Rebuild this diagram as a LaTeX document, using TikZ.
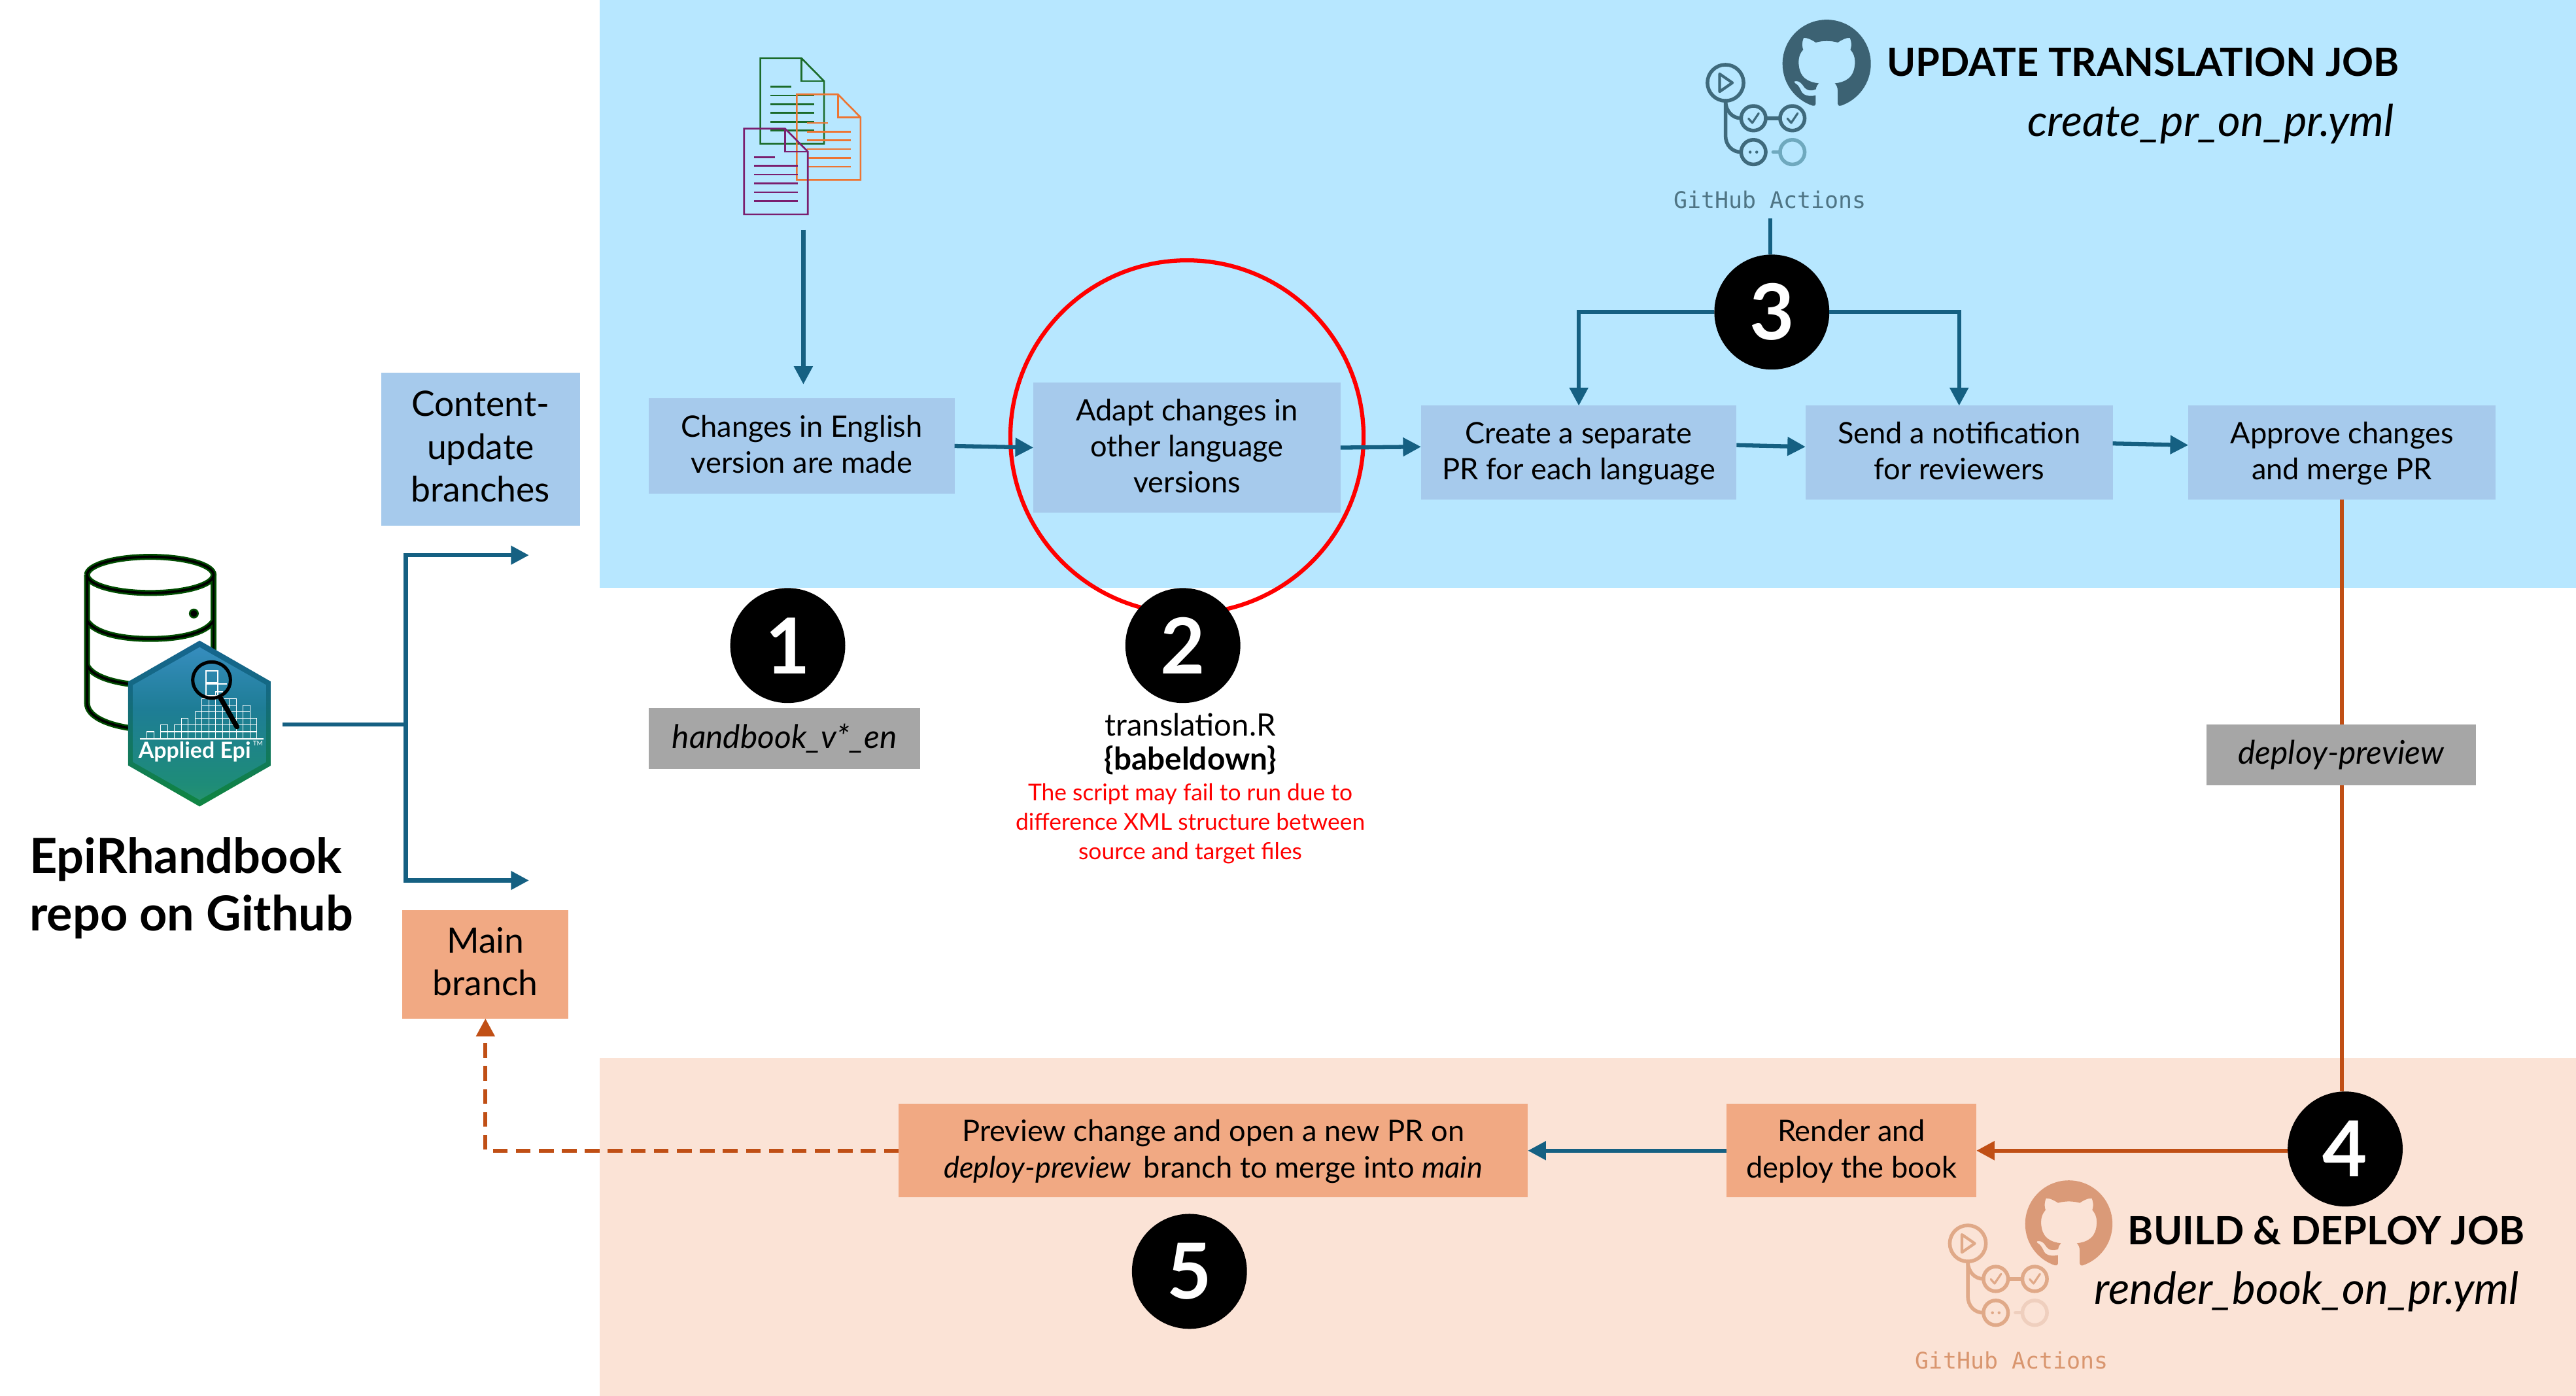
\documentclass[tikz,border=0pt]{standalone}
\usepackage{fontspec}
\setmainfont{Lato}
\setmonofont{DejaVu Sans Mono}
\usetikzlibrary{arrows.meta,svg.path,calc}
\definecolor{topblue}{HTML}{B7E7FF}
\definecolor{botpeach}{HTML}{FBE3D6}
\definecolor{boxblue}{HTML}{A6CAEC}
\definecolor{boxorange}{HTML}{F1A983}
\definecolor{boxgray}{HTML}{A6A6A6}
\definecolor{teal}{HTML}{156082}
\definecolor{rust}{HTML}{C04F15}
\definecolor{docgreen}{HTML}{1B6B2A}
\definecolor{docorange}{HTML}{ED7532}
\definecolor{docpurple}{HTML}{7A1F6F}
\definecolor{ghdark}{HTML}{3C6273}
\definecolor{ghline}{HTML}{3F6A7C}
\definecolor{ghfade}{HTML}{6FA9BE}
\definecolor{ghtext}{HTML}{4F7585}
\definecolor{ghorange}{HTML}{DA9A78}
\definecolor{gholine}{HTML}{E0A988}
\definecolor{ghofade}{HTML}{EFCFBE}
\definecolor{ghotext}{HTML}{D9966F}
\definecolor{hA}{HTML}{C8EBCD}
\definecolor{hB}{HTML}{3CA55A}
\definecolor{hC}{HTML}{1E8C78}
\definecolor{hD}{HTML}{1E7D96}
\definecolor{hE}{HTML}{3C91C8}
\definecolor{hF}{HTML}{78B4E1}
\definecolor{hG}{HTML}{BEDCF0}
\definecolor{eA}{HTML}{109132}
\definecolor{eB}{HTML}{108246}
\definecolor{eC}{HTML}{146982}
\definecolor{eD}{HTML}{195FA5}
\pgfdeclareverticalshading{hexfill}{100bp}{
  color(0bp)=(hA);
  color(10bp)=(hB);
  color(30bp)=(hC);
  color(55bp)=(hD);
  color(80bp)=(hE);
  color(93bp)=(hF);
  color(100bp)=(hG)}
\pgfdeclareverticalshading{hexedge}{100bp}{
  color(0bp)=(eA);
  color(30bp)=(eB);
  color(60bp)=(eC);
  color(100bp)=(eD)}
\newcommand{\txt}[2]{\fontsize{#1}{#2}\selectfont}
\newcommand{\fl}{\rule{0pt}{15pt}}
\newcommand{\lst}{\rule[-4pt]{0pt}{4pt}}
\newcommand{\bfl}{\rule{0pt}{17pt}}
\newcommand{\blst}{\rule[-5pt]{0pt}{5pt}}
\tikzset{
  box/.style={rectangle,inner sep=0pt,outer sep=0pt,align=center,text=black,font=\txt{18}{22}},
  bluebox/.style={box,fill=boxblue},
  orangebox/.style={box,fill=boxorange},
  graybox/.style={box,fill=boxgray,font=\txt{19.8}{22}\itshape},
  bigbox/.style={font=\txt{21.3}{26}},
  flow/.style={draw=teal,line width=2.5pt},
  flowarrow/.style={flow,-{Triangle[length=11pt,width=11pt]}},
  rustline/.style={draw=rust,line width=2.5pt},
  rustarrow/.style={rustline,-{Triangle[length=11pt,width=11pt]}},
  numdot/.style={circle,fill=black,minimum size=70pt,inner sep=0pt,outer sep=0pt,text=white,font=\txt{47}{47}\bfseries},
  plain/.style={inner sep=0pt,outer sep=0pt,align=center},
  docline/.style={line width=1.05pt,line join=miter}
}
% a page icon: origin, colour
\newcommand{\docicon}[3]{%
  \begin{scope}[shift={(#1,#2)},draw=#3,docline]
    \draw (0,0) -- (25,0) -- (38.8,14) -- (38.8,52.2) -- (0,52.2) -- cycle;
    \draw (25,0) -- (25,14) -- (38.8,14);
    \draw (6.2,17.4) -- (18.9,17.4);
    \foreach \k in {1,...,5}{\draw (6.2,17.4+\k*5.33) -- (32.8,17.4+\k*5.33);}
  \end{scope}}
% the octocat mark
\newcommand{\ghmark}[4]{%
  \begin{scope}[shift={(#1,#2)},xscale=#3,yscale=-#3,x=1pt,y=1pt]
    \fill[#4] svg "M 8 0 C 3.58 0 0 3.58 0 8 c 0 3.54 2.29 6.53 5.47 7.59 c 0.4 0.07 0.55 -0.17 0.55 -0.38 c 0 -0.19 -0.01 -0.82 -0.01 -1.49 c -2.01 0.37 -2.53 -0.49 -2.69 -0.94 c -0.09 -0.23 -0.48 -0.94 -0.82 -1.13 c -0.28 -0.15 -0.68 -0.52 -0.01 -0.53 c 0.63 -0.01 1.08 0.58 1.23 0.82 c 0.72 1.21 1.87 0.87 2.33 0.66 c 0.07 -0.52 0.28 -0.87 0.51 -1.07 c -1.78 -0.2 -3.64 -0.89 -3.64 -3.95 c 0 -0.87 0.31 -1.59 0.82 -2.15 c -0.08 -0.2 -0.36 -1.02 0.08 -2.12 c 0 0 0.67 -0.21 2.2 0.82 c 0.64 -0.18 1.32 -0.27 2 -0.27 c 0.68 0 1.36 0.09 2 0.27 c 1.53 -1.04 2.2 -0.82 2.2 -0.82 c 0.44 1.1 0.16 1.92 0.08 2.12 c 0.51 0.56 0.82 1.28 0.82 2.15 c 0 3.07 -1.87 3.75 -3.65 3.95 c 0.29 0.25 0.54 0.73 0.54 1.48 c 0 1.07 -0.01 1.93 -0.01 2.2 c 0 0.21 0.15 0.46 0.55 0.38 C 13.71 14.53 16 11.53 16 8 c 0 -4.42 -3.58 -8 -8 -8 z";
  \end{scope}}
% the GitHub Actions glyph
\newcommand{\acticon}[4]{%
  \begin{scope}[shift={(#1,#2)},line width=2.2pt,draw=#3,line cap=round,line join=round]
    \draw (0,0) circle[radius=11];
    \draw[line width=1.7pt] (-3.6,-5.4) -- (4.2,0) -- (-3.6,5.4) -- cycle;
    \draw (0,11) -- (0,32) .. controls (0,38) and (4,42.2) .. (9.5,42.2);
    \draw (0,11) .. controls (0,17) and (4,21.6) .. (9.5,21.6);
    \draw (17,21.6) circle[radius=7.5];
    \draw (40.7,21.6) circle[radius=7.5];
    \draw (24.5,21.6) -- (33.2,21.6);
    \draw (17,42.2) circle[radius=7.5];
    \draw[draw=#4] (40.7,42.2) circle[radius=7.5];
    \draw[draw=#4] (29,42.2) -- (33.2,42.2);
    \draw[line width=1.3pt] (14,21.8) -- (16.3,24.4) -- (20.2,18.6);
    \draw[line width=1.3pt] (37.7,21.8) -- (40,24.4) -- (43.9,18.6);
    \fill[#3] (15,42.2) circle[radius=0.9] (19,42.2) circle[radius=0.9];
  \end{scope}}
\begin{document}
\begin{tikzpicture}[x=1pt,y=-1pt]
\useasboundingbox (0,0) rectangle (1568,849.87);
\fill[white] (0,0) rectangle (1568,849.87);
% bands
\fill[topblue] (365,0) rectangle (1568,358);
\fill[botpeach] (365,644) rectangle (1568,849.87);

% document icons
\docicon{462.8}{35.4}{docgreen}
\docicon{485}{57.4}{docorange}
\docicon{452.9}{78.3}{docpurple}
\coordinate (docs) at (489,140);
\coordinate (docsEnd) at (489,234);

% boxes
\node[bluebox,bigbox,minimum width=121pt,minimum height=93pt] (content) at (292.5,273.5) {\bfl Content-\\update\\branches\blst};
\node[orangebox,bigbox,minimum width=101pt,minimum height=66pt] (main) at (295.5,587) {\bfl Main\\branch\blst};
\node[bluebox,minimum width=186pt,minimum height=58pt] (changes) at (488,271.5) {\fl Changes in English\\version are made\lst};
\node[bluebox,minimum width=187pt,minimum height=79pt] (adapt) at (722.5,272.5) {\fl Adapt changes in\\other language\\versions\lst};
\node[bluebox,minimum width=192pt,minimum height=57pt] (create) at (961,275.5) {\fl Create a separate\\PR for each language\lst};
\node[bluebox,minimum width=187pt,minimum height=57pt] (send) at (1192.5,275.5) {\fl Send a notification\\for reviewers\lst};
\node[bluebox,minimum width=187pt,minimum height=57pt] (approve) at (1425.5,275.5) {\fl Approve changes\\and merge PR\lst};
\node[orangebox,minimum width=383pt,minimum height=57pt] (preview) at (738.5,700.5) {\fl Preview change and open a new PR on\\\textit{deploy-preview}\, branch to merge into \textit{main}\lst};
\node[orangebox,minimum width=152pt,minimum height=57pt] (render) at (1127,700.5) {\fl Render and\\deploy the book\lst};

% red ring
\draw[red,line width=2.5pt] (722.5,266) circle[radius=107.5];

% numbered discs
\node[numdot] (n1) at (479.5,393) {1};
\node[numdot] (n2) at (720,393) {2};
\node[numdot] (n3) at (1078.5,190) {3};
\node[numdot] (n4) at (1427.5,699.5) {4};
\node[numdot] (n5) at (724,774) {5};

% repo icon
\foreach \w/\c in {3.6/green!30!black,1.5/black}{
  \draw[line width=\w pt,draw=\c] (53,350) arc[start angle=180,end angle=-180,x radius=38.5,y radius=11];
  \draw[line width=\w pt,draw=\c] (53,350) -- (53,428) .. controls (53,436) and (65,442) .. (85,444);
  \draw[line width=\w pt,draw=\c] (130,350) -- (130,412);
  \draw[line width=\w pt,draw=\c] (53,378) .. controls (58,386) and (75,389) .. (91.5,389) .. controls (108,389) and (125,386) .. (130,378);
  \draw[line width=\w pt,draw=\c] (53,405) .. controls (56,412) and (70,416) .. (85,417);
}
\fill[green!30!black] (118,373.5) circle[radius=3];
\fill[black] (118,373.5) circle[radius=2];
\shade[shading=hexedge] (121.5,390) -- (165,415) -- (165,466) -- (121.5,491) -- (78,466) -- (78,415) -- cycle;
\shade[shading=hexfill] (121.5,394) -- (162,417) -- (162,464) -- (121.5,487) -- (81,464) -- (81,417) -- cycle;
\begin{scope}[draw=white,line width=0.45pt,shift={(89.4,449.5)}]
  \foreach \col/\h in {0/1,2/2,3/1,4/2,5/3,6/2,7/4,8/6,9/6,10/7,11/6,12/6,13/4,14/5,15/3}{
    \foreach \r in {1,...,\h}{
      \draw (\col*4.18,-\r*4.05) rectangle ++(4.18,4.05);
    }
  }
\end{scope}
\draw[white,line width=0.7pt] (85,449.8) -- (160.5,449.8);
\draw[white,line width=0.9pt] (125.5,408.5) rectangle (132.5,415.5) (125.5,416.5) rectangle (132.5,423.5) (132.5,416.5) -- (138,416.5);
\draw[black,line width=2pt] (128.8,414) circle[x radius=11.5,y radius=11];
\draw[black,line width=3pt,line cap=round] (134,424.5) -- (144.2,442.5);
\node[plain,text=white,font=\txt{13.5}{13}\bfseries] (applied) at (118.5,457.5) {Applied Epi};
\node[plain,text=white,font=\txt{4}{4}] (tm) at (157,452.5) {TM};
\node[plain,minimum width=100pt,minimum height=101pt] (logo) at (122,441) {};

% repo labels
\node[plain,anchor=west,font=\txt{29.4}{35}\bfseries,align=left] (repo) at (18,540.5) {EpiRhandbook\\repo on Github};

% actions icons
\acticon{1050.3}{50.4}{ghline}{ghfade}
\ghmark{1085}{12}{3.36}{ghdark}
\node[plain,font=\ttfamily\txt{13.9}{14},text=ghtext] (gha1) at (1077.5,121.5) {GitHub Actions};
\acticon{1197.8}{757}{gholine}{ghofade}
\ghmark{1232.7}{718.6}{3.32}{ghorange}
\node[plain,font=\ttfamily\txt{13.9}{14},text=ghotext] (gha2) at (1224.5,828) {GitHub Actions};

% titles
\node[plain,font=\txt{23.7}{30}\bfseries] (title1) at (1304.5,38) {UPDATE TRANSLATION JOB};
\node[plain,font=\txt{26.7}{30}\itshape] (file1) at (1345.5,75.5) {create\_pr\_on\_pr.yml};
\node[plain,font=\txt{23.7}{30}\bfseries] (title2) at (1416,749) {BUILD \& DEPLOY JOB};
\node[plain,font=\txt{26.9}{30}\itshape] (file2) at (1404,786.5) {render\_book\_on\_pr.yml};

% script labels
\node[plain,font=\txt{18.8}{22}] (script) at (724.5,441) {translation.R};
\node[plain,font=\txt{19}{22}\bfseries] (babel) at (724.5,463) {\{babeldown\}};
\node[plain,font=\txt{14.1}{18},text=red] (warn) at (724.5,501.5) {The script may fail to run due to\\difference XML structure between\\source and target files};

% connectors
\draw[flowarrow] (docs) -- (docsEnd);
\draw[flowarrow] (changes.east) -- (adapt.west);
\draw[flowarrow] (adapt.east) -- ([yshift=3.5pt]create.west);
\draw[flowarrow] ([yshift=4.5pt]create.east) -- ([yshift=3.5pt]send.west);
\draw[flowarrow] ([yshift=5.5pt]send.east) -- ([yshift=4.5pt]approve.west);
\draw[flow] (gha1.south) ++(0,6) coordinate (ghaOut) -- (ghaOut |- n3.north);
\draw[flowarrow] (n3.west) -| (create.north);
\draw[flowarrow] (n3.east) -| (send.north);
\draw[rustline] (approve.south) -- (approve.south |- n4.north);
\node[graybox,minimum width=164pt,minimum height=37pt] (deploy) at (1425,459.5) {deploy-preview};
\node[graybox,minimum width=165pt,minimum height=37pt] (handbook) at (477.5,449.5) {handbook\_v*\_en};
\draw[rustarrow] (n4.west |- render.east) -- (render.east);
\draw[flowarrow] (render.west) -- (preview.east);
\draw[rustarrow,dash pattern=on 9pt off 5pt] (preview.west) -| (main.south);
\coordinate (fork) at (247,441);
\coordinate (toContent) at (322,338);
\coordinate (toMain) at (322,536);
\draw[flow] (logo.east) -- (fork);
\draw[flowarrow] (fork) |- (toContent);
\draw[flowarrow] (fork) |- (toMain);
\end{tikzpicture}
\end{document}
